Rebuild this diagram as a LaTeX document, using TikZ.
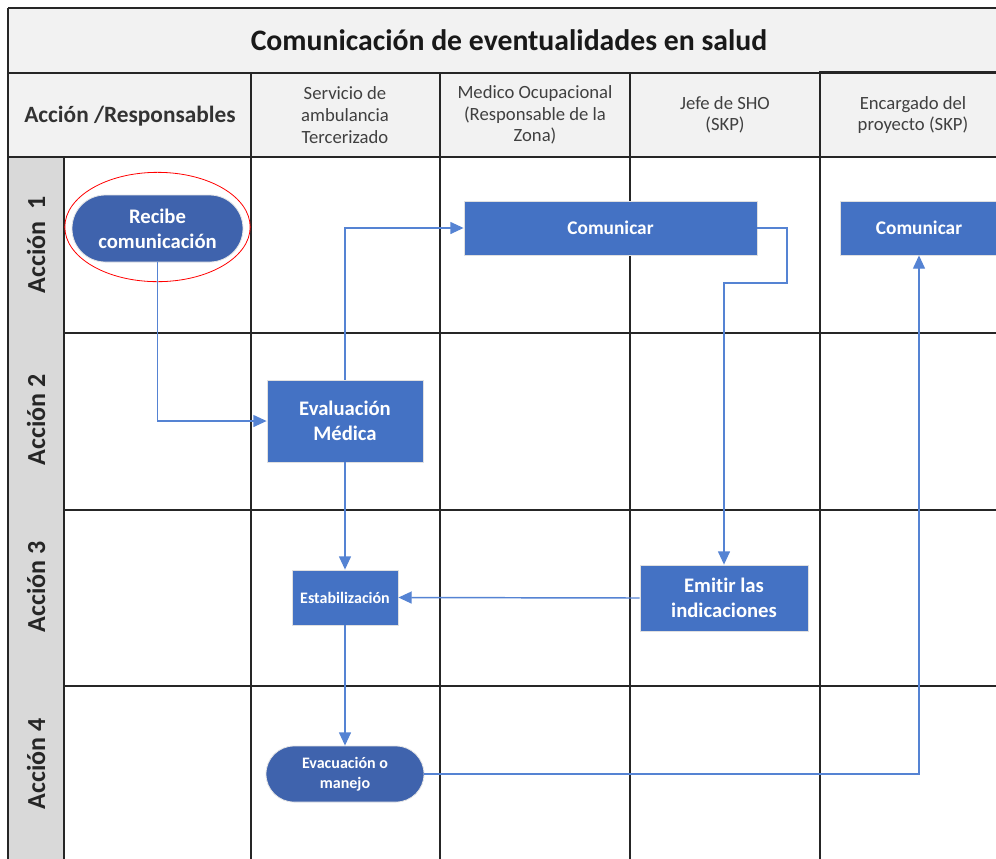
\documentclass[tikz,border=0pt]{standalone}
\usepackage{fontspec}
\setmainfont[Ligatures={NoCommon}]{Carlito}
\usetikzlibrary{arrows.meta,shapes.geometric}
\definecolor{boxblue}{HTML}{4472C4}
\definecolor{darkblue}{HTML}{3F63AD}
\definecolor{headgray}{HTML}{F2F2F2}
\definecolor{stripgray}{HTML}{D9D9D9}
\definecolor{gridline}{HTML}{262626}
\definecolor{headtext}{HTML}{404040}
\definecolor{lineblue}{HTML}{5583D3}
\tikzset{
  grid/.style={draw=gridline, line width=1.4pt},
  boxnode/.style={draw=black!12, line width=0.6pt, fill=boxblue, text=white, font=\bfseries\fontsize{15.5}{18.75}\selectfont, align=center, inner sep=0pt},
  pill/.style={draw=black!10, line width=0.6pt, fill=darkblue, text=white, font=\bfseries\fontsize{15.5}{18.75}\selectfont, align=center, inner sep=0pt},
  headlbl/.style={text=headtext, font=\fontsize{14}{16.2}\selectfont, align=center},
  rowlbl/.style={text=black!85, font=\bfseries\fontsize{19.5}{24}\selectfont, rotate=90},
  flow/.style={draw=lineblue, line width=1.1pt, -{Triangle[length=10pt,width=9pt]}}
}
\begin{document}
\begin{tikzpicture}[x=0.75pt,y=-0.75pt]
\clip (0,0) rectangle (996,858);
\fill[white] (0,0) rectangle (996,858);
% header backgrounds
\fill[headgray] (8,8) rectangle (1000,157);
\fill[stripgray] (8,157) rectangle (64,870);
% grid
\draw[grid] (8,8) -- (1000,8);
\draw[grid] (8,73) -- (1000,73);
\draw[grid] (8,157) -- (1000,157);
\draw[grid] (64,333) -- (1000,333);
\draw[grid] (64,510) -- (1000,510);
\draw[grid] (64,686) -- (1000,686);
\draw[grid] (8,8) -- (8,870);
\draw[grid] (64,157) -- (64,870);
\draw[grid] (251,73) -- (251,870);
\draw[grid] (440,73) -- (440,870);
\draw[grid] (630,73) -- (630,870);
\draw[grid, line width=1.8pt] (820,71) -- (820,870);
\draw[grid, line width=1.8pt] (820,72) -- (1000,72);
% title and headers
\node[font=\bfseries\fontsize{22.3}{26}\selectfont, text=black!90] (title) at (509,40) {Comunicación de eventualidades en salud};
\node[font=\bfseries\fontsize{17.5}{20}\selectfont, text=black!80] (ar) at (130,116) {Acción /Responsables};
\node[headlbl] (h1) at (345,115) {Servicio de\\ambulancia\\Tercerizado};
\node[headlbl] (h2) at (535,115) {Medico Ocupacional\\(Responsable de la\\Zona)};
\node[headlbl] (h3) at (725,115) {Jefe de SHO\\(SKP)};
\node[headlbl] (h4) at (913,115) {Encargado del\\proyecto (SKP)};
% row labels
\node[rowlbl] (r1) at (36,245) {Acción~~1};
\node[rowlbl] (r2) at (36,420) {Acción 2};
\node[rowlbl] (r3) at (36,587) {Acción 3};
\node[rowlbl] (r4) at (36,764) {Acción 4};
% nodes
\node[pill, minimum width=128.25pt, minimum height=50.25pt, rounded corners=25pt] (recibe) at (157.5,228.5) {Recibe\\comunicación};
\draw[red, line width=0.6pt] (157.5,227) ellipse [x radius=69.5pt, y radius=41pt];
\node[boxnode, minimum width=219.75pt, minimum height=40.5pt, font=\bfseries\fontsize{14.5}{18}\selectfont] (com1) at (610.5,228) {Comunicar};
\node[boxnode, minimum width=118.5pt, minimum height=40.5pt, font=\bfseries\fontsize{14.5}{18}\selectfont] (com2) at (919,228) {Comunicar};
\node[boxnode, minimum width=117pt, minimum height=61.5pt] (eval) at (345,421) {Evaluación\\Médica};
\node[boxnode, minimum width=79.5pt, minimum height=41.25pt, font=\bfseries\fontsize{12}{15}\selectfont] (estab) at (345,597.5) {Estabilización};
\node[boxnode, minimum width=126pt, minimum height=49.5pt] (emitir) at (724,598) {Emitir las\\indicaciones};
\node[pill, minimum width=118.5pt, minimum height=42pt, rounded corners=21pt, font=\bfseries\fontsize{12}{15}\selectfont] (evac) at (345,774) {Evacuación o\\manejo};
% connectors
\draw[flow] (recibe.south) |- (eval.west);
\draw[flow] (eval.north) |- (com1.west);
\coordinate (c1) at (787,228);
\coordinate (c2) at (787,283);
\coordinate (c3) at (724,283);
\draw[flow] (com1.east) -- (c1) -- (c2) -- (c3) -- (emitir.north);
\draw[flow] (emitir.west) -- (estab.east);
\draw[flow] (eval.south) -- (estab.north);
\draw[flow] (estab.south) -- (evac.north);
\draw[flow] (evac.east) -| (com2.south);
\end{tikzpicture}
\end{document}
